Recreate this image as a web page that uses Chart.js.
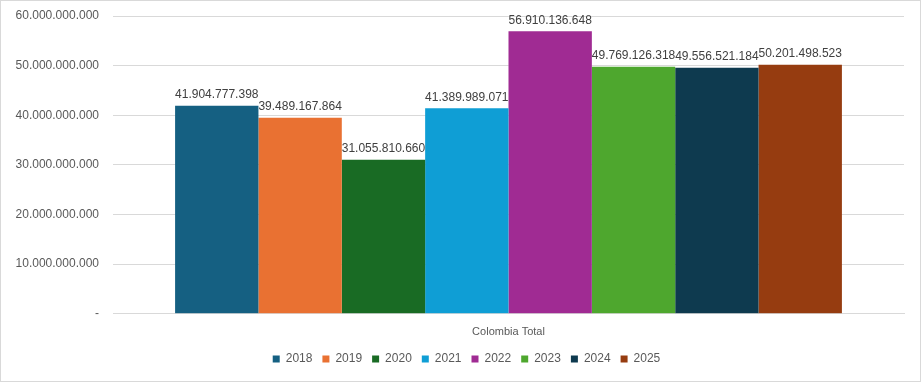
<!DOCTYPE html>
<html>
<head>
<meta charset="utf-8">
<script src="https://cdn.jsdelivr.net/npm/chart.js@4.4.1/dist/chart.umd.min.js"></script>
<style>
  html, body { margin: 0; padding: 0; background: #fff; }
  #wrap { width: 919px; height: 380px; border: 1px solid #d9d9d9; }
</style>
</head>
<body>
<div id="wrap"><canvas id="chart" width="919" height="380"></canvas></div>
<script>
// Données
const categories = ['Colombia Total'];
const years = ['2018', '2019', '2020', '2021', '2022', '2023', '2024', '2025'];
const totals = [41904777398, 39489167864, 31055810660, 41389989071, 56910136648, 49769126318, 49556521184, 50201498523];
const colors = ['#156082', '#E97132', '#196B24', '#0F9ED5', '#A02B93', '#4EA72E', '#0E3A4F', '#963C10'];
const yTicks = [0, 10000000000, 20000000000, 30000000000, 40000000000, 50000000000, 60000000000];

// Format avec points comme séparateur de milliers
function fmt(v) {
    return Math.round(v).toString().replace(/\B(?=(\d{3})+(?!\d))/g, '.');
}

// Étiquettes de valeur au-dessus des barres
const valueLabels = {
    id: 'valueLabels',
    afterDatasetsDraw(chart) {
        const ctx = chart.ctx;
        ctx.save();
        ctx.font = '12px "Liberation Sans", Arial, sans-serif';
        ctx.fillStyle = '#404040';
        ctx.textAlign = 'center';
        ctx.textBaseline = 'bottom';
        chart.data.datasets.forEach((ds, i) => {
            chart.getDatasetMeta(i).data.forEach((bar, j) => {
                ctx.fillText(fmt(ds.data[j]), bar.x, bar.y - 5);
            });
        });
        ctx.restore();
    }
};

// Décale la légende un peu vers la droite, comme dans l'original
const legendShift = {
    id: 'legendShift',
    afterLayout(chart) {
        chart.legend.left += 14;
        chart.legend.right += 14;
    }
};

const datasets = years.map((y, i) => ({
    label: y,
    data: [totals[i]],
    backgroundColor: colors[i],
    borderWidth: 0,
    barPercentage: 1,
    categoryPercentage: 0.843
}));

new Chart(document.getElementById('chart').getContext('2d'), {
    type: 'bar',
    data: { labels: categories, datasets: datasets },
    options: {
        responsive: false,
        animation: false,
        layout: { autoPadding: false, padding: { top: 15, right: 16, left: 0, bottom: 6 } },
        plugins: {
            legend: {
                position: 'bottom',
                labels: {
                    boxWidth: 7,
                    boxHeight: 7,
                    padding: 10,
                    color: '#595959',
                    font: { size: 12, family: '"Liberation Sans", Arial, sans-serif' }
                }
            },
            tooltip: { enabled: false }
        },
        scales: {
            x: {
                grid: { display: false },
                border: { color: '#d9d9d9', width: 1 },
                ticks: {
                    color: '#595959',
                    padding: 4,
                    font: { size: 11, family: '"Liberation Sans", Arial, sans-serif' }
                }
            },
            y: {
                min: 0,
                max: 60000000000,
                afterFit(scale) { scale.width = 112; },
                afterBuildTicks(scale) { scale.ticks = yTicks.map(v => ({ value: v })); },
                grid: { color: '#d9d9d9', drawTicks: true, tickLength: 14, tickColor: 'rgba(0,0,0,0)' },
                border: { display: false },
                ticks: {
                    color: '#595959',
                    padding: 0,
                    font: { size: 12, family: '"Liberation Sans", Arial, sans-serif' },
                    callback: v => v === 0 ? '-' : fmt(v)
                }
            }
        }
    },
    plugins: [valueLabels, legendShift]
});
</script>
</body>
</html>
